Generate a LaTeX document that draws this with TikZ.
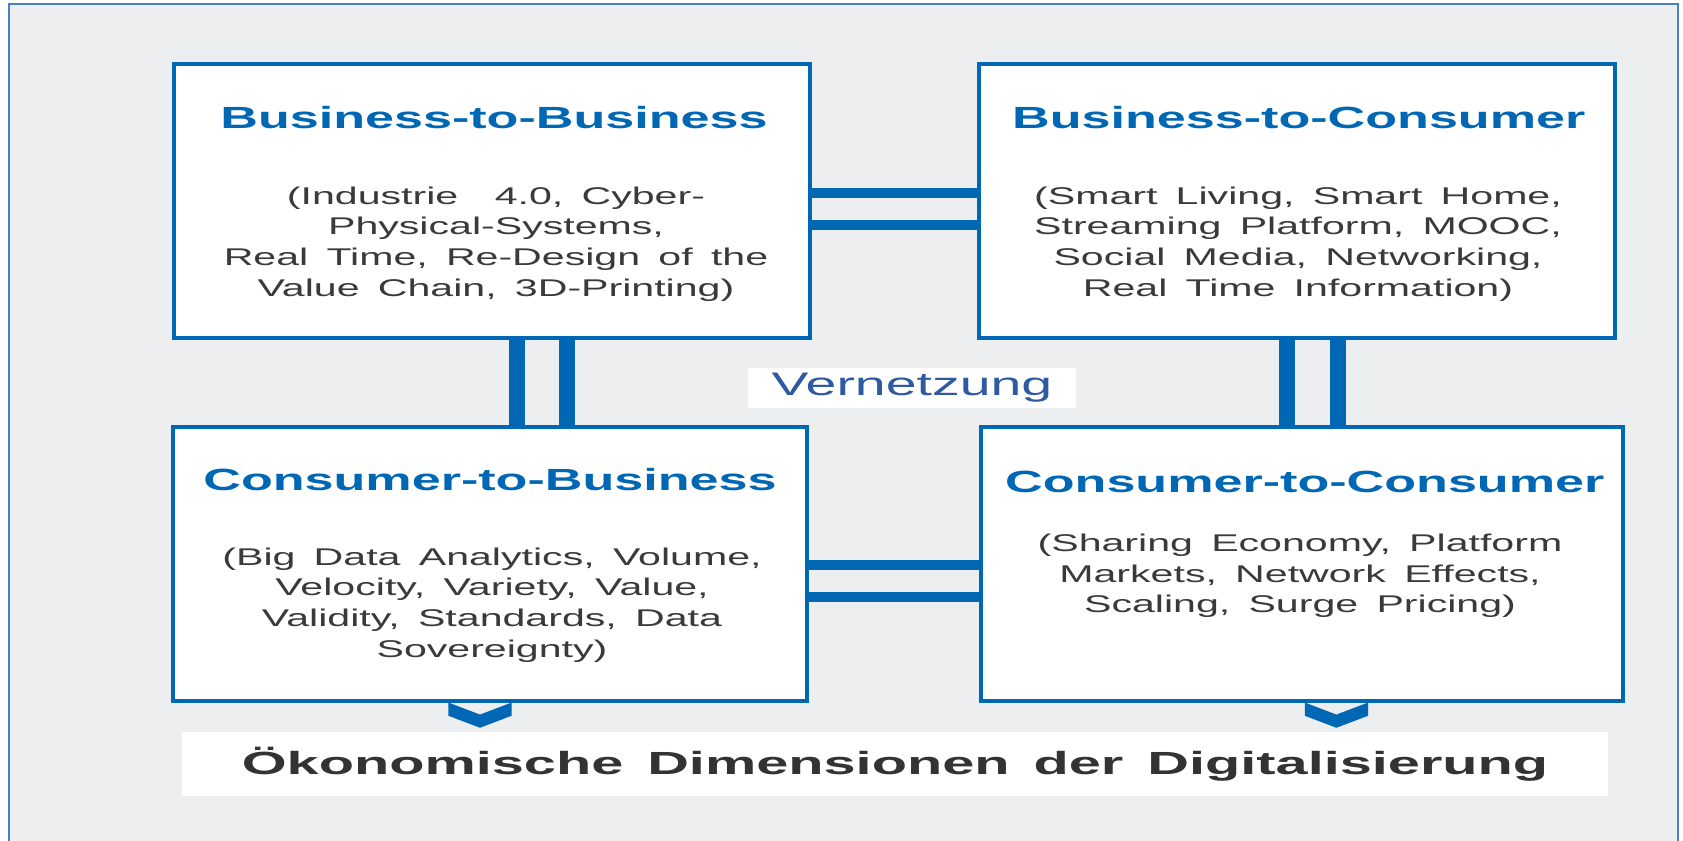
\documentclass[tikz,border=0pt]{standalone}
\usepackage{fontspec}
\setmainfont{Liberation Sans}
\newfontfamily\widesans[FakeStretch=1.7,WordSpace=1.6]{Liberation Sans}
\newfontfamily\widerbold[FakeStretch=1.8,WordSpace=1.5]{Liberation Sans}
\definecolor{boxblue}{RGB}{0,103,180}
\definecolor{frameblue}{RGB}{70,130,195}
\definecolor{bggray}{RGB}{236,238,240}
\definecolor{textgray}{RGB}{58,58,58}
\definecolor{netblue}{RGB}{45,90,160}
\definecolor{labelgray}{RGB}{51,51,51}

\begin{document}
\begin{tikzpicture}[
    dimbox/.style={rectangle, draw=boxblue, line width=2.8pt, fill=white, minimum height=6.85cm, inner sep=0pt},
    title/.style={font=\widesans\fontsize{21.8}{26}\selectfont\bfseries, text=boxblue},
    body/.style={font=\widesans\fontsize{17.2}{21.8}\selectfont, text=textgray, align=center},
    hbar/.style={boxblue, line width=7pt},
    vbar/.style={boxblue, line width=11pt},
  ]
    \clip (0,0) rectangle (42.075,21);
    \fill[white] (0,0) rectangle (42.075,21);
    \draw[frameblue, line width=1.4pt, fill=bggray] (0.225,-1) rectangle (41.95,20.9);

    % Boxes
    \node[dimbox, minimum width=15.9cm] (b2b) at (12.29,15.975) {};
    \node[dimbox, minimum width=15.9cm] (b2c) at (32.425,15.975) {};
    \node[dimbox, minimum width=15.85cm] (c2b) at (12.24,6.91) {};
    \node[dimbox, minimum width=16.05cm] (c2c) at (32.54,6.91) {};

    % Titles and examples
    \node[title] (b2btitle) at (12.35,18.05) {Business-to-Business};
    \node[body] (b2bbody) at (12.4,14.9) {(Industrie~ 4.0, Cyber-\\Physical-Systems,\\Real Time, Re-Design of the\\Value Chain, 3D-Printing)};
    \node[title] (b2ctitle) at (32.47,18.05) {Business-to-Consumer};
    \node[body] (b2cbody) at (32.45,14.9) {(Smart Living, Smart Home,\\Streaming Platform, MOOC,\\Social Media, Networking,\\Real Time Information)};
    \node[title] (c2btitle) at (12.25,9.0) {Consumer-to-Business};
    \node[body] (c2bbody) at (12.3,5.88) {(Big Data Analytics, Volume,\\Velocity, Variety, Value,\\Validity, Standards, Data\\Sovereignty)};
    \node[title] (c2ctitle) at (32.62,8.95) {Consumer-to-Consumer};
    \node[body] (c2cbody) at (32.5,6.6) {(Sharing Economy, Platform\\Markets, Network Effects,\\Scaling, Surge Pricing)};

    % Networking bars
    \draw[hbar] ([yshift=0.2cm]b2b.east) -- ([yshift=0.2cm]b2c.west);
    \draw[hbar] ([yshift=-0.6cm]b2b.east) -- ([yshift=-0.6cm]b2c.west);
    \draw[hbar] ([yshift=-0.04cm]c2b.east) -- ([yshift=-0.04cm]c2c.west);
    \draw[hbar] ([yshift=-0.84cm]c2b.east) -- ([yshift=-0.84cm]c2c.west);
    \draw[vbar] ([xshift=0.64cm]b2b.south) -- ([xshift=0.64cm]b2b.south |- c2b.north);
    \draw[vbar] ([xshift=1.89cm]b2b.south) -- ([xshift=1.89cm]b2b.south |- c2b.north);
    \draw[vbar] ([xshift=-0.25cm]b2c.south) -- ([xshift=-0.25cm]b2c.south |- c2c.north);
    \draw[vbar] ([xshift=1.03cm]b2c.south) -- ([xshift=1.03cm]b2c.south |- c2c.north);

    \node[fill=white, minimum width=8.2cm, minimum height=1cm, text=netblue, font=\widesans\fontsize{23.2}{28}\selectfont] (netz) at (22.8,11.3) {Vernetzung};

    % Chevrons
    \fill[boxblue] ([xshift=-0.24cm]c2b.south) ++(-0.79,0) -- ++(0.79,-0.3) -- ++(0.79,0.3) -- ++(0,-0.33) -- ++(-0.79,-0.3) -- ++(-0.79,0.3) -- cycle;
    \fill[boxblue] ([xshift=0.87cm]c2c.south) ++(-0.79,0) -- ++(0.79,-0.3) -- ++(0.79,0.3) -- ++(0,-0.33) -- ++(-0.79,-0.3) -- ++(-0.79,0.3) -- cycle;

    \node[fill=white, minimum width=35.65cm, minimum height=1.6cm, text=labelgray, font=\widerbold\fontsize{22.8}{27}\selectfont\bfseries] (dims) at (22.375,1.9) {Ökonomische Dimensionen der Digitalisierung};
  \end{tikzpicture}
\end{document}
